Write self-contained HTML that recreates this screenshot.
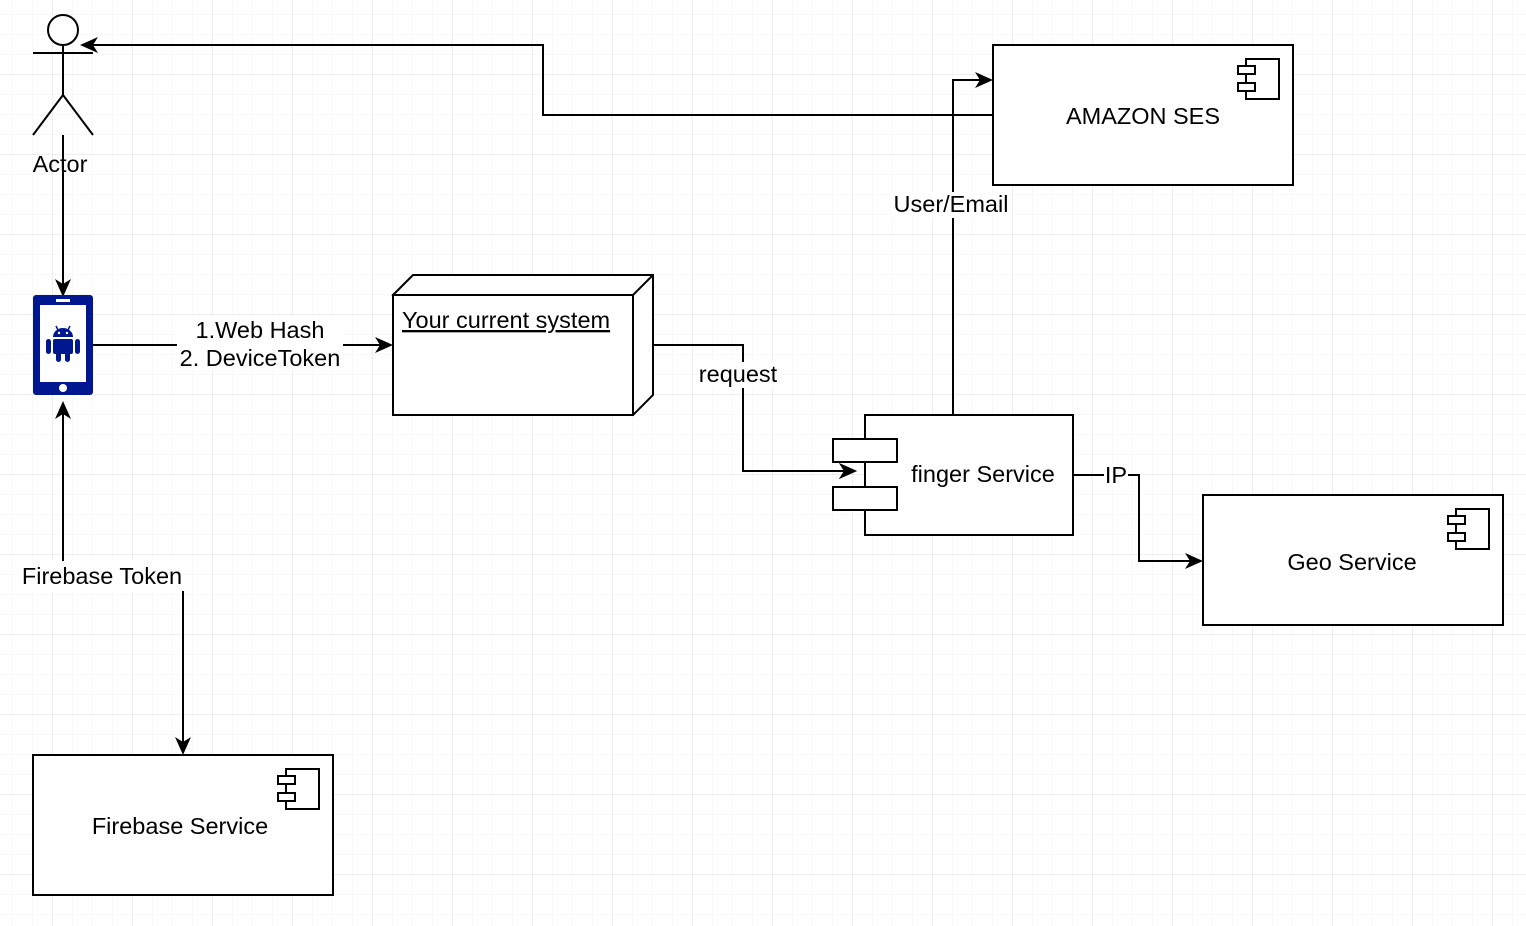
<!DOCTYPE html>
<html><head><meta charset="utf-8"><style>
html,body{margin:0;padding:0;background:#fff;}
svg{display:block;font-family:"Liberation Sans",Arial,sans-serif;}
</style></head><body>
<svg width="1526" height="926" viewBox="0 0 1526 926" xmlns="http://www.w3.org/2000/svg">
<defs>
<pattern id="minor" x="12" y="14" width="20" height="20" patternUnits="userSpaceOnUse">
<path d="M0 0H20M0 0V20" stroke="#f2f2f2" stroke-width="1" fill="none"/>
</pattern>
<pattern id="major" x="52" y="74" width="80" height="80" patternUnits="userSpaceOnUse">
<path d="M0 0H80M0 0V80" stroke="#dedede" stroke-width="1" fill="none"/>
</pattern>
</defs>
<rect width="1526" height="926" fill="url(#minor)"/>
<rect width="1526" height="926" fill="url(#major)"/>

<g stroke="#000" stroke-width="2" fill="none">
<circle cx="63" cy="30" r="15" fill="#fff"/>
<path d="M63 45V95M33 53H93M63 95L33 135M63 95L93 135"/>
<path d="M993 115H543V45H84"/>
<path d="M63 135V290"/>
<path d="M93 345H386"/>
<path d="M653 345H743V471H850"/>
<path d="M953 415V80H986"/>
<path d="M1073 475H1139V561H1196"/>
<path d="M63 575V408"/>
<path d="M63 575H183V748"/>
</g>
<g fill="#000">
<path d="M80 45l18-8-5 8 5 8z"/>
<path d="M63 297l-8-18 8 5 8-5z"/>
<path d="M393 345l-18-8 5 8-5 8z"/>
<path d="M857 471l-18-8 5 8-5 8z"/>
<path d="M993 80l-18-8 5 8-5 8z"/>
<path d="M1203 561l-18-8 5 8-5 8z"/>
<path d="M63 401l-8 18 8-5 8 5z"/>
<path d="M183 755l-8-18 8 5 8-5z"/>
</g>

<!-- phone -->
<rect x="33" y="295" width="60" height="100" rx="3" fill="#00188f"/>
<rect x="40" y="305" width="46" height="77" fill="#fff"/>
<rect x="56" y="299" width="14" height="3" fill="#fff"/>
<circle cx="63" cy="388" r="4" fill="#fff"/>
<g fill="#00188f">
<path d="M53 337 A10 9 0 0 1 73 337 Z"/>
<rect x="53" y="339" width="20" height="15" rx="2"/>
<rect x="46" y="339" width="5" height="15" rx="2.5"/>
<rect x="75" y="339" width="5" height="15" rx="2.5"/>
<rect x="56" y="350" width="5" height="12" rx="2.5"/>
<rect x="65" y="350" width="5" height="12" rx="2.5"/>
<path d="M56 326L58 330M70 326L68 330" stroke="#00188f" stroke-width="1.5"/>
</g>
<circle cx="59" cy="333" r="1.2" fill="#fff"/><circle cx="67" cy="333" r="1.2" fill="#fff"/>

<g stroke="#000" stroke-width="2" fill="#fff">
<path d="M393 295L413 275H653V395L633 415Z"/>
<rect x="393" y="295" width="240" height="120"/>
<path d="M633 295L653 275" fill="none"/>
</g>
<text x="402" y="328" font-size="23.5" text-decoration="underline">Your current system</text>

<g stroke="#000" stroke-width="2" fill="#fff">
<rect x="993" y="45" width="300" height="140"/>
<rect x="1246" y="59" width="33" height="40"/>
<rect x="1238" y="66" width="17" height="8"/>
<rect x="1238" y="83" width="17" height="8"/>
<rect x="1203" y="495" width="300" height="130"/>
<rect x="1456" y="509" width="33" height="40"/>
<rect x="1448" y="516" width="17" height="8"/>
<rect x="1448" y="533" width="17" height="8"/>
<rect x="33" y="755" width="300" height="140"/>
<rect x="286" y="769" width="33" height="40"/>
<rect x="278" y="776" width="17" height="8"/>
<rect x="278" y="793" width="17" height="8"/>
<rect x="865" y="415" width="208" height="120"/>
<rect x="833" y="439" width="64" height="23"/>
<rect x="833" y="487" width="64" height="23"/>
</g>
<path d="M843 471H850" stroke="#000" stroke-width="2"/>
<path d="M857 471l-18-8 5 8-5 8z" fill="#000"/>

<g font-size="23.5" fill="#000" text-anchor="middle">
<text x="1143" y="124">AMAZON SES</text>
<text x="1352" y="570">Geo Service</text>
<text x="180" y="834">Firebase Service</text>
<text x="983" y="482">finger Service</text>
<text x="60" y="172">Actor</text>
</g>

<rect x="177" y="316" width="166" height="54" fill="#fff"/>
<text x="260" y="338" font-size="23.5" text-anchor="middle">1.Web Hash</text>
<text x="260" y="366" font-size="23.5" text-anchor="middle">2. DeviceToken</text>
<rect x="697" y="362" width="82" height="26" fill="#fff"/>
<text x="738" y="382" font-size="23.5" text-anchor="middle">request</text>
<rect x="892" y="192" width="118" height="26" fill="#fff"/>
<text x="951" y="212" font-size="23.5" text-anchor="middle">User/Email</text>
<rect x="1104" y="463" width="24" height="24" fill="#fff"/>
<text x="1116" y="483" font-size="23.5" text-anchor="middle">IP</text>
<rect x="20" y="561" width="164" height="30" fill="#fff"/>
<text x="102" y="584" font-size="23.5" text-anchor="middle">Firebase Token</text>
</svg>
</body></html>
